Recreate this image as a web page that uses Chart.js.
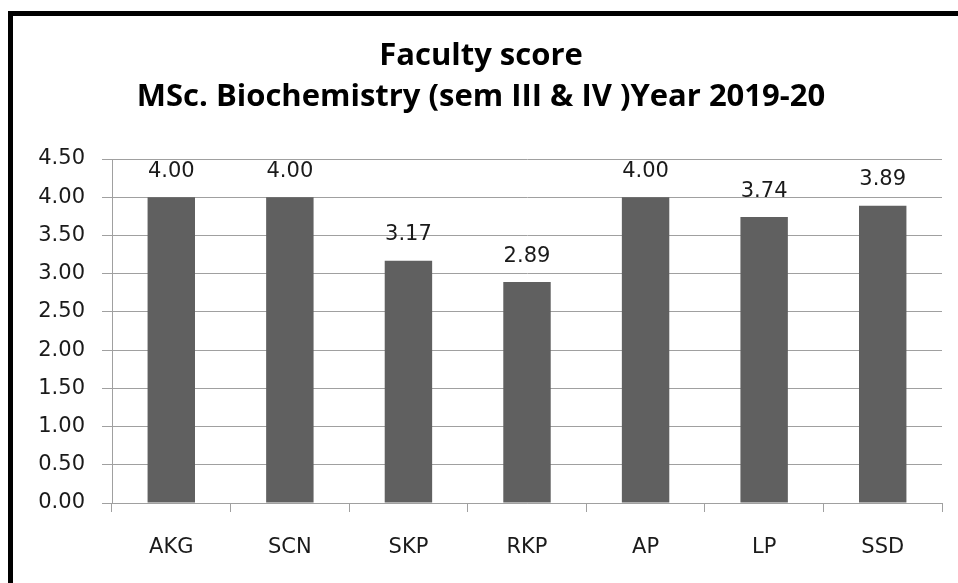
<!DOCTYPE html>
<html>
<head>
<meta charset="utf-8">
<script src="https://cdn.jsdelivr.net/npm/chart.js@4"></script>
<style>
  html, body { margin: 0; padding: 0; background: #fff; }
  #wrap { position: relative; width: 958px; height: 583px; overflow: hidden; }
  #frame { position: absolute; left: 8px; top: 11px; width: 960px; height: 580px;
           border-left: 5px solid #000; border-top: 5px solid #000; pointer-events: none; }
</style>
</head>
<body>
<div id="wrap">
  <canvas id="chart" width="958" height="583"></canvas>
  <div id="frame"></div>
</div>
<script>
const faculty = ['AKG', 'SCN', 'SKP', 'RKP', 'AP', 'LP', 'SSD'];
const scores = [4.00, 4.00, 3.17, 2.89, 4.00, 3.74, 3.89];
const titleLines = ['Faculty score', 'MSc. Biochemistry (sem III & IV )Year 2019-20'];
const yMin = 0, yMax = 4.5, yStep = 0.5;

const labelFont = '"DejaVu Sans", sans-serif';

// value labels above each bar
const barLabels = {
    id: 'barLabels',
    afterDatasetsDraw(chart) {
        const ctx = chart.ctx;
        const meta = chart.getDatasetMeta(0);
        ctx.save();
        ctx.font = '21px ' + labelFont;
        ctx.fillStyle = '#1a1a1a';
        ctx.textAlign = 'center';
        ctx.textBaseline = 'middle';
        meta.data.forEach((bar, i) => {
            ctx.fillText(scores[i].toFixed(2), bar.x, bar.y - 26);
        });
        ctx.restore();
    }
};

new Chart(document.getElementById('chart').getContext('2d'), {
    type: 'bar',
    data: {
        labels: faculty,
        datasets: [{
            data: scores,
            backgroundColor: '#606060',
            borderWidth: 0,
            categoryPercentage: 1.0,
            barPercentage: 0.4
        }]
    },
    options: {
        responsive: false,
        animation: false,
        layout: { padding: { left: 20, right: 16, top: 0, bottom: 0 } },
        plugins: {
            legend: { display: false },
            tooltip: { enabled: false },
            title: {
                display: true,
                text: titleLines,
                color: '#000',
                font: { family: '"Open Sans", sans-serif', size: 31, weight: 'bold', lineHeight: '41px' },
                padding: { top: 36, bottom: 41 }
            }
        },
        scales: {
            x: {
                grid: { drawOnChartArea: false, drawTicks: true, tickLength: 9, color: '#a0a0a0', offset: true },
                border: { color: '#a0a0a0', width: 1 },
                ticks: { color: '#1a1a1a', font: { family: labelFont, size: 21 }, padding: 23 },
                afterFit(scale) { scale.height = 80; }
            },
            y: {
                min: yMin,
                max: yMax,
                grid: { color: '#a0a0a0', tickLength: 10 },
                border: { color: '#a0a0a0', width: 1 },
                ticks: {
                    stepSize: yStep,
                    color: '#1a1a1a',
                    font: { family: labelFont, size: 21 },
                    padding: 17,
                    callback: v => v.toFixed(2)
                },
                afterFit(scale) { scale.width = 92; }
            }
        }
    },
    plugins: [barLabels]
});
</script>
</body>
</html>
